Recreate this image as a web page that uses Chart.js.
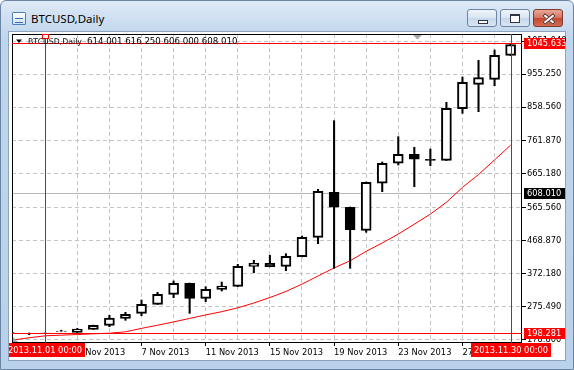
<!DOCTYPE html>
<html>
<head>
<meta charset="utf-8">
<script src="https://cdn.jsdelivr.net/npm/chart.js@4.4.1/dist/chart.umd.min.js"></script>
<style>
  html, body { margin: 0; padding: 0; }
  body { width: 574px; height: 370px; position: relative; overflow: hidden; background: #fff; font-family: "Noto Sans", sans-serif; }
  #frame { position: absolute; left: 0; top: 0; width: 572px; height: 368px; border: 1px solid #6b84a2; border-radius: 6px 6px 0 0;
           background: linear-gradient(#dde9f6, #c8dbef 26px, #bed5ec 40px, #b9d1ea); }
  #client { position: absolute; left: 8px; top: 31px; width: 556px; height: 328px; background: #fff; border: 1px solid #8ca2bd; }
  #icon { position: absolute; left: 12px; top: 12px; width: 12px; height: 11px; border: 1px solid #4f7fb9; border-radius: 1px;
          background: linear-gradient(#ffffff, #cfe2f6); }
  #icon:before { content: ""; position: absolute; left: 2px; top: 5px; width: 8px; height: 3px; border-top: 1px solid #3a6fb0; border-bottom: 1px solid #3a6fb0; }
  #title { position: absolute; left: 31px; top: 11px; font-size: 11.5px; line-height: 16px; color: #000; }
  .btn { position: absolute; top: 9px; width: 28px; height: 16px; border: 1px solid #6d84a2; border-radius: 3px;
         background: linear-gradient(#eef4fb, #d8e5f2 50%, #c6d7ea 51%, #d9e6f3); }
  #bmin { left: 467px; } #bmax { left: 500px; }
  #bclose { left: 533px; border-color: #7b3b2f; background: linear-gradient(#eaa698, #d6735f 50%, #c4472f 51%, #d66a50); }
  #bmin i { position: absolute; left: 10px; top: 10px; width: 8px; height: 2px; background: #fff; border: 1px solid #334; }
  #bmax i { position: absolute; left: 9px; top: 4px; width: 8px; height: 6px; border: 1px solid #334; border-top-width: 2px; background: #fff; }
  #bclose i { position: absolute; left: 8px; top: 7px; width: 12px; height: 2px; background: #fff; border: 1px solid #5a2a22; }
  #bclose i.a { transform: rotate(40deg); } #bclose i.b { transform: rotate(-40deg); }
  #chart { position: absolute; left: 0; top: 0; }
</style>
</head>
<body>
<div id="frame"></div>
<div id="client"></div>
<div id="icon"></div>
<div id="title">BTCUSD,Daily</div>
<div class="btn" id="bmin"><i></i></div>
<div class="btn" id="bmax"><i></i></div>
<div class="btn" id="bclose"><i class="a"></i><i class="b"></i></div>
<canvas id="chart" width="574" height="370"></canvas>
<script>
// day index: 1 = 1 Nov 2013, 0 = 31 Oct, -1 = 30 Oct
const days = [-1, 0, 1, 2, 3, 4, 5, 6, 7, 8, 9, 10, 11, 12, 13, 14, 15, 16, 17, 18, 19, 20, 21, 22, 23, 24, 25, 26, 27, 28, 29, 30];
const opens  = [198.0, 197.5, 198.0, 203.0, 200.4, 209.2, 220.9, 241.4, 256.0, 282.3, 311.6, 343.8, 299.9, 326.2, 335.0, 393.5,
                402.3, 393.5, 421.6, 478.3, 609.9, 566.1, 498.8, 636.3, 694.8, 721.1, 706.5, 703.5, 854.5, 925.8, 940.5, 1010.7];
const highs  = [199.0, 198.5, 198.8, 206.5, 212.1, 221.5, 250.2, 259.0, 294.9, 317.4, 350.5, 344.5, 333.8, 347.6, 399.3, 411.0,
                425.7, 430.4, 482.1, 618.7, 819.4, 567.0, 640.0, 698.6, 772.6, 741.6, 736.6, 873.2, 947.2, 996.0, 1026.2, 1045.6];
const lows   = [196.5, 193.5, 196.5, 202.0, 200.0, 209.0, 216.8, 235.5, 249.0, 282.0, 301.7, 256.0, 290.0, 321.2, 334.0, 374.8,
                392.0, 380.6, 421.0, 459.6, 387.6, 387.6, 492.9, 611.7, 689.8, 626.3, 687.7, 703.0, 841.0, 845.7, 921.8, 1010.0];
const closes = [197.2, 196.8, 197.2, 204.2, 210.1, 220.9, 242.3, 253.1, 282.3, 311.6, 343.8, 299.9, 326.2, 335.9, 393.5, 402.3,
                392.3, 422.7, 478.3, 612.9, 566.1, 500.5, 639.2, 694.8, 721.1, 706.5, 703.5, 855.6, 931.7, 945.2, 1010.7, 1041.7];
const maValues = [177.9, 184.5, 190.2, 192.0, 194.0, 196.0, 197.8, 201.9, 211.9, 221.2, 230.8, 241.1, 251.3, 260.7, 272.1, 286.1,
                  302.2, 319.8, 341.4, 365.1, 388.8, 409.6, 437.3, 461.6, 487.7, 516.6, 546.2, 580.7, 624.3, 661.7, 704.7, 747.7];

const priceTicks = [178.8, 275.49, 372.18, 468.87, 565.56, 665.18, 761.87, 858.56, 955.25, 1051.94];
const gridDays = [1, 3, 5, 7, 9, 11, 13, 15, 17, 19, 21, 23, 25, 27, 29];
const labelDays = [3, 7, 11, 15, 19, 23, 27];

const bidPrice = 608.01;
const crossPrices = [1045.633, 198.281];
const crossDays = [1, 30];
const crossDayLabels = ['2013.11.01 00:00', '2013.11.30 00:00'];
const headerName = 'BTCUSD,Daily';
const headerOhlc = '614.001 616.250 606.000 608.010';

const FONT = '"DejaVu Sans", sans-serif';
Chart.defaults.font.family = FONT;
Chart.defaults.font.size = 8.3;
Chart.defaults.color = '#000';

function tag(ctx, text, x, y, w, h, bg, align) {
  ctx.fillStyle = bg;
  ctx.fillRect(x, y, w, h);
  ctx.fillStyle = '#fff';
  ctx.textBaseline = 'middle';
  ctx.textAlign = align;
  ctx.fillText(text, align === 'center' ? x + w / 2 : x + 3, y + h / 2 + 0.5);
}

const mtOverlay = {
  id: 'mtOverlay',
  beforeDatasetsDraw(chart) {
    const { ctx, chartArea: a, scales: { y } } = chart;
    const py = Math.round(y.getPixelForValue(bidPrice)) + 0.5;
    ctx.save();
    ctx.strokeStyle = '#b8b8b8';
    ctx.lineWidth = 1;
    ctx.beginPath(); ctx.moveTo(a.left, py); ctx.lineTo(a.right, py); ctx.stroke();
    ctx.restore();
  },
  afterDraw(chart) {
    const { ctx, chartArea: a, scales: { x, y } } = chart;
    ctx.save();
    ctx.beginPath(); ctx.rect(9, 32, 556, 328); ctx.clip();

    // frame
    ctx.strokeStyle = '#000'; ctx.lineWidth = 1;
    ctx.strokeRect(a.left + 0.5, a.top + 0.5, a.width - 1, a.height);

    // crosshair lines
    ctx.strokeStyle = '#ff0000';
    crossPrices.forEach(p => {
      const py = Math.round(y.getPixelForValue(p)) + 0.5;
      ctx.beginPath(); ctx.moveTo(a.left, py); ctx.lineTo(a.right, py); ctx.stroke();
    });
    crossDays.forEach(d => {
      const px = Math.round(x.getPixelForValue(d)) + 0.5;
      ctx.beginPath(); ctx.moveTo(px, a.top); ctx.lineTo(px, a.bottom + 2); ctx.stroke();
    });
    const p0 = Math.round(x.getPixelForValue(crossDays[0]));
    ctx.fillStyle = '#fff';
    ctx.fillRect(p0 - 3, a.top, 7, 5);
    ctx.strokeRect(p0 - 2.5, a.top + 0.5, 6, 4);

    // price tags
    ctx.font = '8.3px ' + FONT;
    const bidY = y.getPixelForValue(bidPrice);
    tag(ctx, bidPrice.toFixed(3), 524, Math.round(bidY) - 5, 42, 11, '#000', 'left');
    crossPrices.forEach(p => {
      const py = y.getPixelForValue(p);
      tag(ctx, p.toFixed(3), 524, Math.round(py) - 5, 42, 11, '#ff0000', 'left');
    });
    // date tags
    crossDays.forEach((d, i) => {
      const px = x.getPixelForValue(d);
      tag(ctx, crossDayLabels[i], Math.round(px) - 40, 343, 80, 14, '#ff0000', 'center');
    });

    // header line
    ctx.fillStyle = '#000';
    ctx.beginPath(); ctx.moveTo(16, 39.5); ctx.lineTo(22, 39.5); ctx.lineTo(19, 43); ctx.closePath(); ctx.fill();
    ctx.textAlign = 'left'; ctx.textBaseline = 'middle';
    ctx.font = '7.8px ' + FONT;
    ctx.fillText(headerName, 28, 41.5);
    ctx.font = '8.6px ' + FONT;
    ctx.fillText(headerOhlc, 87, 41.5);

    // shift markers
    ctx.fillStyle = '#a8a8a8';
    ctx.beginPath(); ctx.moveTo(413, 35); ctx.lineTo(422, 35); ctx.lineTo(417.5, 39.5); ctx.closePath(); ctx.fill();
    ctx.beginPath(); ctx.moveTo(13, 337); ctx.lineTo(13, 342); ctx.lineTo(18, 342); ctx.closePath(); ctx.fill();
    ctx.restore();
  }
};

const wickBase = { backgroundColor: '#000', borderWidth: 0, barThickness: 1.4, grouped: false, order: 1 };

new Chart(document.getElementById('chart').getContext('2d'), {
  type: 'bar',
  data: {
    datasets: [
      {
        label: 'body',
        data: days.map((d, i) => ({ x: d, y: [opens[i], closes[i]] })),
        backgroundColor: c => (closes[c.dataIndex] < opens[c.dataIndex] ? '#000' : '#fff'),
        borderColor: '#000',
        borderWidth: 2,
        borderSkipped: false,
        barThickness: 10,
        grouped: false,
        order: 0
      },
      Object.assign({
        label: 'upper wick',
        data: days.map((d, i) => ({ x: d, y: [Math.max(opens[i], closes[i]), highs[i]] }))
      }, wickBase),
      Object.assign({
        label: 'lower wick',
        data: days.map((d, i) => ({ x: d, y: [lows[i], Math.min(opens[i], closes[i])] }))
      }, wickBase),
      {
        type: 'line',
        label: 'MA',
        data: days.map((d, i) => ({ x: d, y: maValues[i] })),
        borderColor: '#ff0000',
        borderWidth: 1,
        pointRadius: 0,
        tension: 0,
        order: 2
      }
    ]
  },
  options: {
    responsive: false,
    animation: false,
    devicePixelRatio: 1,
    events: [],
    layout: { padding: { left: 12, top: 34, right: 8, bottom: 10 } },
    plugins: { legend: { display: false }, tooltip: { enabled: false } },
    scales: {
      x: {
        type: 'linear',
        min: -1.07,
        max: 30.71,
        offset: false,
        afterFit: s => { s.height = 18; },
        afterBuildTicks: s => { s.ticks = gridDays.map(v => ({ value: v })); },
        ticks: {
          autoSkip: false, maxRotation: 0, minRotation: 0, align: 'start', padding: 2,
          callback: v => (labelDays.includes(v) ? v + ' Nov 2013' : '')
        },
        grid: {
          color: '#c4c4c4', lineWidth: 1, tickLength: 4, offset: false,
          tickColor: c => (c.tick && labelDays.includes(c.tick.value) ? '#000' : 'rgba(0,0,0,0)')
        },
        border: { display: false, dash: [4, 3] }
      },
      y: {
        position: 'right',
        min: 172.07,
        max: 1073.0,
        afterFit: s => { s.width = 44; },
        afterBuildTicks: s => { s.ticks = priceTicks.map(v => ({ value: v })); },
        ticks: { padding: 1, callback: v => Number(v).toFixed(3) },
        grid: { color: '#c4c4c4', lineWidth: 1, tickLength: 4, tickColor: '#000' },
        border: { display: false, dash: [4, 3] }
      }
    }
  },
  plugins: [mtOverlay]
});
</script>
</body>
</html>
